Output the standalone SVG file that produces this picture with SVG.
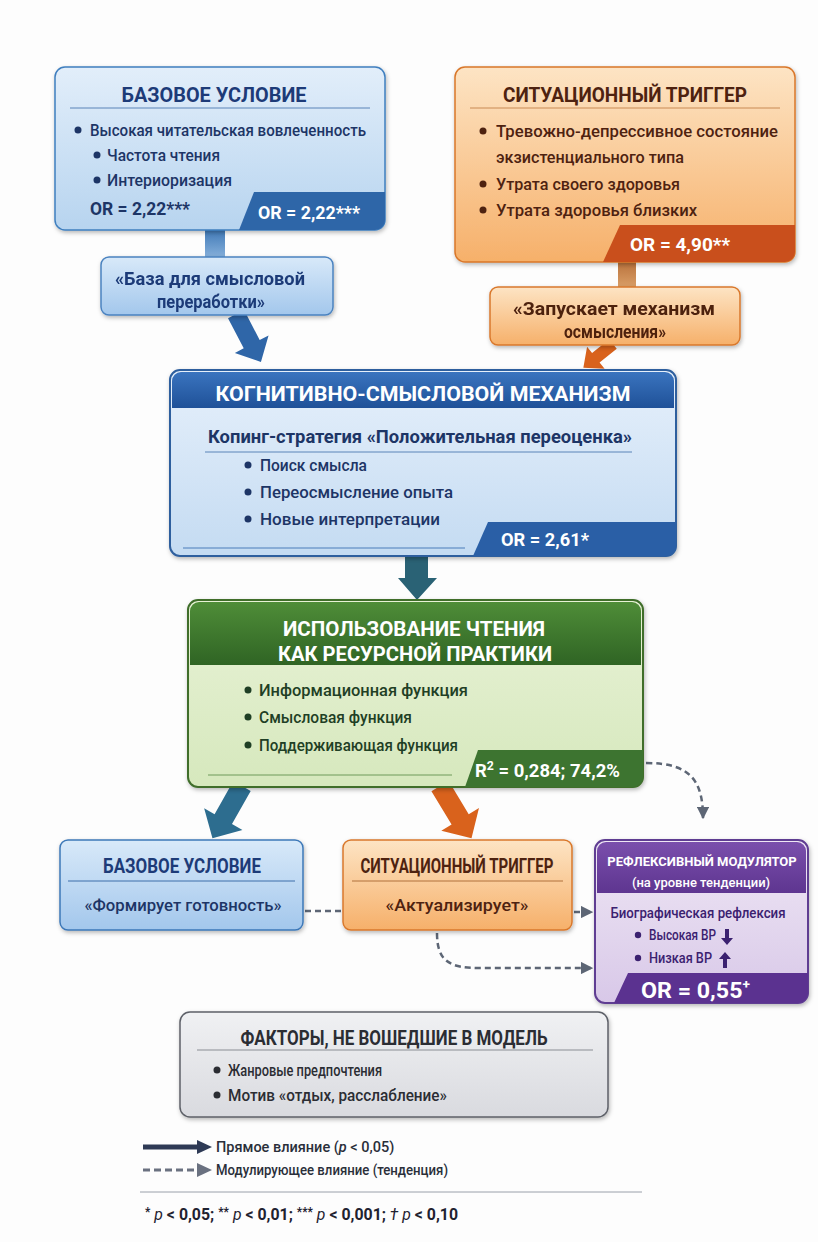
<svg xmlns="http://www.w3.org/2000/svg" width="818" height="1242" viewBox="0 0 818 1242">
<defs>
<style>
text{font-family:Roboto,"Noto Sans","Liberation Sans",sans-serif}
.ttl{font-weight:700;font-size:21px;text-anchor:middle}
.bd{font-weight:500;font-size:17px}
.bb{font-weight:700;font-size:18px}
.wt{fill:#fff}
.nv{fill:#1d3566}
.br{fill:#4e2210}
.gr{fill:#1f3f25}
.pu{fill:#3b2170}
.gy{fill:#2b2d33}
.dash{fill:none;stroke:#5d6675;stroke-width:2.5;stroke-dasharray:6 4}
</style>
<filter id="sh" x="-10%" y="-10%" width="120%" height="130%"><feDropShadow dx="1" dy="2" stdDeviation="2" flood-color="#000" flood-opacity="0.28"/></filter>
<linearGradient id="gBlue" x1="0" y1="0" x2="0" y2="1"><stop offset="0" stop-color="#e2eefa"/><stop offset="1" stop-color="#b7d4ef"/></linearGradient>
<linearGradient id="gBlueL" x1="0" y1="0" x2="0" y2="1"><stop offset="0" stop-color="#d8e9f9"/><stop offset="1" stop-color="#a3c7ec"/></linearGradient>
<linearGradient id="gOr" x1="0" y1="0" x2="0" y2="1"><stop offset="0" stop-color="#fde4c4"/><stop offset="1" stop-color="#f6b06a"/></linearGradient>
<linearGradient id="gMech" x1="0" y1="0" x2="0" y2="1"><stop offset="0" stop-color="#e6f0fb"/><stop offset="1" stop-color="#c4dbf2"/></linearGradient>
<linearGradient id="gMechH" x1="0" y1="0" x2="0" y2="1"><stop offset="0" stop-color="#3a74bf"/><stop offset="1" stop-color="#1f5198"/></linearGradient>
<linearGradient id="gGrH" x1="0" y1="0" x2="0" y2="1"><stop offset="0" stop-color="#4f8d38"/><stop offset="1" stop-color="#2f6424"/></linearGradient>
<linearGradient id="gGr" x1="0" y1="0" x2="0" y2="1"><stop offset="0" stop-color="#e8f2d6"/><stop offset="1" stop-color="#d6e8bd"/></linearGradient>
<linearGradient id="gPu" x1="0" y1="0" x2="0" y2="1"><stop offset="0" stop-color="#efe7f5"/><stop offset="1" stop-color="#d8c8e8"/></linearGradient>
<linearGradient id="gPuH" x1="0" y1="0" x2="0" y2="1"><stop offset="0" stop-color="#7a4fac"/><stop offset="1" stop-color="#5e3590"/></linearGradient>
<linearGradient id="gGy" x1="0" y1="0" x2="0" y2="1"><stop offset="0" stop-color="#f0f1f3"/><stop offset="1" stop-color="#d9dadf"/></linearGradient>
<linearGradient id="gBar1" x1="0" y1="0" x2="0" y2="1"><stop offset="0" stop-color="#3f78b6"/><stop offset="1" stop-color="#8ab3dd"/></linearGradient>
<linearGradient id="gBar2" x1="0" y1="0" x2="0" y2="1"><stop offset="0" stop-color="#b8703a"/><stop offset="1" stop-color="#dca26a"/></linearGradient>
<marker id="ah" viewBox="0 0 10 10" refX="9" refY="5" markerWidth="5" markerHeight="5" markerUnits="strokeWidth" orient="auto"><path d="M0,0 L10,5 L0,10 Z" fill="#5d6675"/></marker>
</defs>
<rect width="818" height="1242" fill="#fdfdfd"/>

<g id="connectors">
<rect x="205" y="229" width="20" height="30" fill="url(#gBar1)"/>
<rect x="618" y="261" width="18" height="28" fill="url(#gBar2)"/>
<path transform="translate(236,314) rotate(62.5)" d="M0,-9 L34,-9 L34,-19 L54,0 L34,19 L34,9 L0,9 Z" fill="#2f66a8"/>
<path transform="translate(613,344) rotate(141.3)" d="M0,-6 L22,-6 L22,-14 L38,0 L22,14 L22,6 L0,6 Z" fill="#d9621c"/>
<polygon points="405,556 428,556 428,578 437,578 417,600 398,578 405,578" fill="#2a6275"/>
<path transform="translate(242,786) rotate(119.5)" d="M0,-10 L38,-10 L38,-22 L60,0 L38,22 L38,10 L0,10 Z" fill="#2d6d8f"/>
<path transform="translate(440,786) rotate(58.9)" d="M0,-10 L39,-10 L39,-22 L61,0 L39,22 L39,10 L0,10 Z" fill="#d9621c"/>
<path class="dash" d="M646,763 C690,763 703,780 703,818" marker-end="url(#ah)"/>
<line class="dash" x1="305" y1="911" x2="341" y2="911"/>
<path class="dash" d="M574,912 L592,912" marker-end="url(#ah)"/>
<path class="dash" d="M437,933 C437,962 450,968 480,968 L592,968" marker-end="url(#ah)"/>
</g>

<g id="base-top" filter="url(#sh)">
<rect x="55" y="67" width="330" height="163" rx="10" fill="url(#gBlue)" stroke="#3f7fbf" stroke-width="1.5"/>
<path d="M254,192 H385 V220 A10,10 0 0 1 375,230 H239 Z" fill="#2f66a8"/>
</g>
<g id="base-top-text">
<text class="ttl" x="214" y="102" fill="#1d3b78" textLength="185" lengthAdjust="spacingAndGlyphs">БАЗОВОЕ УСЛОВИЕ</text>
<line x1="70" y1="108" x2="370" y2="108" stroke="#5b84b8"/>
<circle cx="78" cy="130" r="3.5" fill="#1d3566"/>
<text class="bd nv" x="90" y="136" textLength="276" lengthAdjust="spacingAndGlyphs">Высокая читательская вовлеченность</text>
<circle cx="97" cy="155" r="3.5" fill="#1d3566"/>
<text class="bd nv" x="107" y="161" textLength="113" lengthAdjust="spacingAndGlyphs">Частота чтения</text>
<circle cx="97" cy="180" r="3.5" fill="#1d3566"/>
<text class="bd nv" x="107" y="186" textLength="125" lengthAdjust="spacingAndGlyphs">Интериоризация</text>
<text class="bb nv" x="90" y="215" textLength="100" lengthAdjust="spacingAndGlyphs">OR = 2,22***</text>
<text class="bb wt" x="258" y="219" textLength="102" lengthAdjust="spacingAndGlyphs">OR = 2,22***</text>
</g>

<g id="trigger-top" filter="url(#sh)">
<rect x="455" y="67" width="340" height="195" rx="10" fill="url(#gOr)" stroke="#d9772a" stroke-width="1.5"/>
<path d="M620,225 H795 V252 A10,10 0 0 1 785,262 H603 Z" fill="#c9501c"/>
</g>
<g id="trigger-top-text">
<text class="ttl br" x="625" y="102" textLength="244" lengthAdjust="spacingAndGlyphs">СИТУАЦИОННЫЙ ТРИГГЕР</text>
<line x1="470" y1="108" x2="780" y2="108" stroke="#c98a55"/>
<circle cx="483" cy="131" r="3.5" fill="#4e2210"/>
<text class="bd br" x="496" y="137" textLength="282" lengthAdjust="spacingAndGlyphs">Тревожно-депрессивное состояние</text>
<text class="bd br" x="496" y="163" textLength="188" lengthAdjust="spacingAndGlyphs">экзистенциального типа</text>
<circle cx="483" cy="184" r="3.5" fill="#4e2210"/>
<text class="bd br" x="496" y="190" textLength="184" lengthAdjust="spacingAndGlyphs">Утрата своего здоровья</text>
<circle cx="483" cy="210" r="3.5" fill="#4e2210"/>
<text class="bd br" x="496" y="216" textLength="201" lengthAdjust="spacingAndGlyphs">Утрата здоровья близких</text>
<text class="bb wt" x="630" y="251" textLength="100" lengthAdjust="spacingAndGlyphs">OR = 4,90**</text>
</g>

<g id="label-base" filter="url(#sh)">
<rect x="101" y="257" width="232" height="58" rx="8" fill="url(#gBlueL)" stroke="#4b83c0" stroke-width="1.5"/>
<text class="bb" x="210" y="285" text-anchor="middle" fill="#1d3b78" textLength="190" lengthAdjust="spacingAndGlyphs">«База для смысловой</text>
<text class="bb" x="211" y="308" text-anchor="middle" fill="#1d3b78" textLength="108" lengthAdjust="spacingAndGlyphs">переработки»</text>
</g>

<g id="label-trigger" filter="url(#sh)">
<rect x="490" y="287" width="250" height="58" rx="8" fill="url(#gOr)" stroke="#d9782c" stroke-width="1.5"/>
<text class="bb br" x="614" y="315" text-anchor="middle" textLength="202" lengthAdjust="spacingAndGlyphs">«Запускает механизм</text>
<text class="bb br" x="615" y="338" text-anchor="middle" textLength="102" lengthAdjust="spacingAndGlyphs">осмысления»</text>
</g>

<g id="mechanism">
<rect x="170" y="370" width="506" height="186" rx="10" fill="url(#gMech)" stroke="#2e5f9e" stroke-width="2" filter="url(#sh)"/>
<path d="M172,381 A9,9 0 0 1 181,372 H665 A9,9 0 0 1 674,381 V408 H172 Z" fill="url(#gMechH)"/>
<text class="ttl wt" x="423" y="401" textLength="415" lengthAdjust="spacingAndGlyphs">КОГНИТИВНО-СМЫСЛОВОЙ МЕХАНИЗМ</text>
<text x="420" y="443" text-anchor="middle" font-weight="700" font-size="19" fill="#1d3566" textLength="424" lengthAdjust="spacingAndGlyphs">Копинг-стратегия «Положительная переоценка»</text>
<line x1="205" y1="452" x2="632" y2="452" stroke="#5b84b8"/>
<circle cx="248" cy="465" r="3.5" fill="#1d3566"/>
<text class="bd nv" x="260" y="471" font-size="18" textLength="107" lengthAdjust="spacingAndGlyphs">Поиск смысла</text>
<circle cx="248" cy="492" r="3.5" fill="#1d3566"/>
<text class="bd nv" x="260" y="498" font-size="18" textLength="193" lengthAdjust="spacingAndGlyphs">Переосмысление опыта</text>
<circle cx="248" cy="519" r="3.5" fill="#1d3566"/>
<text class="bd nv" x="260" y="525" font-size="18" textLength="180" lengthAdjust="spacingAndGlyphs">Новые интерпретации</text>
<line x1="183" y1="548" x2="465" y2="548" stroke="#4b7dba"/>
<path d="M488,522 H676 V546 A10,10 0 0 1 666,556 H473 Z" fill="#2a5fa6"/>
<text class="bb wt" x="501" y="546" font-size="19" textLength="88" lengthAdjust="spacingAndGlyphs">OR = 2,61*</text>
</g>

<g id="resource-practice">
<rect x="188" y="600" width="455" height="187" rx="10" fill="url(#gGr)" stroke="#3f6e2c" stroke-width="2" filter="url(#sh)"/>
<path d="M190,611 A9,9 0 0 1 199,602 H632 A9,9 0 0 1 641,611 V665 H190 Z" fill="url(#gGrH)"/>
<text class="ttl wt" x="414" y="636" textLength="262" lengthAdjust="spacingAndGlyphs">ИСПОЛЬЗОВАНИЕ ЧТЕНИЯ</text>
<text class="ttl wt" x="415" y="661" textLength="274" lengthAdjust="spacingAndGlyphs">КАК РЕСУРСНОЙ ПРАКТИКИ</text>
<circle cx="248" cy="690" r="3.5" fill="#1f3f25"/>
<text class="bd gr" x="259" y="696" font-size="18" font-weight="600" textLength="209" lengthAdjust="spacingAndGlyphs">Информационная функция</text>
<circle cx="248" cy="717" r="3.5" fill="#1f3f25"/>
<text class="bd gr" x="259" y="723" font-size="18" font-weight="600" textLength="153" lengthAdjust="spacingAndGlyphs">Смысловая функция</text>
<circle cx="248" cy="745" r="3.5" fill="#1f3f25"/>
<text class="bd gr" x="259" y="751" font-size="18" font-weight="600" textLength="199" lengthAdjust="spacingAndGlyphs">Поддерживающая функция</text>
<line x1="208" y1="775" x2="452" y2="775" stroke="#6f9a5a"/>
<path d="M478,750 H643 V777 A10,10 0 0 1 633,787 H465 Z" fill="#3d7430"/>
<text class="bb wt" x="475" y="777" font-size="19" textLength="145" lengthAdjust="spacingAndGlyphs">R<tspan font-size="12" dy="-7">2</tspan><tspan dy="7"> = 0,284; 74,2%</tspan></text>
</g>

<g id="base-bottom">
<rect x="60" y="840" width="243" height="90" rx="8" fill="url(#gBlueL)" stroke="#3d78b8" stroke-width="1.5" filter="url(#sh)"/>
<text class="ttl" x="182" y="873" font-size="19" fill="#1d3b78" textLength="158" lengthAdjust="spacingAndGlyphs">БАЗОВОЕ УСЛОВИЕ</text>
<line x1="68" y1="881" x2="295" y2="881" stroke="#3d6eaa"/>
<text class="bd nv" x="183" y="911" font-size="18" text-anchor="middle" textLength="197" lengthAdjust="spacingAndGlyphs">«Формирует готовность»</text>
</g>

<g id="trigger-bottom">
<rect x="343" y="840" width="229" height="90" rx="8" fill="url(#gOr)" stroke="#d9782c" stroke-width="1.5" filter="url(#sh)"/>
<text class="ttl br" x="457" y="873" font-size="17" textLength="193" lengthAdjust="spacingAndGlyphs">СИТУАЦИОННЫЙ ТРИГГЕР</text>
<line x1="352" y1="881" x2="563" y2="881" stroke="#b0703a"/>
<text class="bd br" x="457" y="911" font-size="18" text-anchor="middle" textLength="143" lengthAdjust="spacingAndGlyphs">«Актуализирует»</text>
</g>

<g id="modulator">
<rect x="595" y="840" width="213" height="163" rx="10" fill="url(#gPu)" stroke="#5f3d92" stroke-width="2" filter="url(#sh)"/>
<path d="M597,851 A9,9 0 0 1 606,842 H797 A9,9 0 0 1 806,851 V893 H597 Z" fill="url(#gPuH)"/>
<text x="702" y="866" text-anchor="middle" font-weight="700" font-size="13" fill="#fff">РЕФЛЕКСИВНЫЙ МОДУЛЯТОР</text>
<text x="701" y="887" text-anchor="middle" font-weight="500" font-size="13" fill="#fff">(на уровне тенденции)</text>
<text x="698" y="918" text-anchor="middle" font-weight="500" font-size="14" class="pu" textLength="175" lengthAdjust="spacingAndGlyphs">Биографическая рефлексия</text>
<circle cx="638" cy="935" r="3.2" fill="#3b2170"/>
<text x="649" y="940" font-weight="500" font-size="15" class="pu" textLength="67" lengthAdjust="spacingAndGlyphs">Высокая ВР</text>
<path d="M725,929 H729 V938 H733 L727,945 L721,938 H725 Z" fill="#3b2170"/>
<circle cx="638" cy="958" r="3.2" fill="#3b2170"/>
<text x="649" y="963" font-weight="500" font-size="15" class="pu" textLength="63" lengthAdjust="spacingAndGlyphs">Низкая ВР</text>
<path d="M723,968 H727 V959 H731 L725,952 L719,959 H723 Z" fill="#3b2170"/>
<path d="M628,973 H808 V993 A10,10 0 0 1 798,1003 H614 Z" fill="#5b3290"/>
<text x="641" y="998" font-weight="700" font-size="22" fill="#fff" textLength="109" lengthAdjust="spacingAndGlyphs">OR = 0,55<tspan font-size="13" dy="-9">+</tspan></text>
</g>

<g id="excluded-factors">
<rect x="180" y="1012" width="428" height="105" rx="10" fill="url(#gGy)" stroke="#5d6068" stroke-width="1.5" filter="url(#sh)"/>
<text class="ttl gy" x="394" y="1045" font-size="19" textLength="307" lengthAdjust="spacingAndGlyphs">ФАКТОРЫ, НЕ ВОШЕДШИЕ В МОДЕЛЬ</text>
<line x1="197" y1="1050" x2="593" y2="1050" stroke="#8a8d94"/>
<circle cx="217" cy="1070" r="3.5" fill="#2b2d33"/>
<text class="bd gy" x="228" y="1076" textLength="154" lengthAdjust="spacingAndGlyphs">Жанровые предпочтения</text>
<circle cx="217" cy="1095" r="3.5" fill="#2b2d33"/>
<text class="bd gy" x="228" y="1101" textLength="219" lengthAdjust="spacingAndGlyphs">Мотив «отдых, расслабление»</text>
</g>

<g id="legend">
<line x1="143" y1="1147" x2="200" y2="1147" stroke="#2e3a55" stroke-width="5"/>
<polygon points="197,1140 212,1147 197,1154" fill="#2e3a55"/>
<text x="216" y="1152" font-size="14.5" font-weight="500" fill="#2a2f3a">Прямое влияние (<tspan font-style="italic">p</tspan> &lt; 0,05)</text>
<line x1="143" y1="1170" x2="200" y2="1170" stroke="#6a7180" stroke-width="3" stroke-dasharray="7 4"/>
<polygon points="197,1163 212,1170 197,1177" fill="#6a7180"/>
<text x="216" y="1175" font-size="14.5" font-weight="500" fill="#2a2f3a" textLength="232" lengthAdjust="spacingAndGlyphs">Модулирующее влияние (тенденция)</text>
<line x1="140" y1="1192" x2="642" y2="1192" stroke="#9aa0aa"/>
<text x="145" y="1220" font-size="16" font-weight="700" fill="#1f2230" textLength="313" lengthAdjust="spacingAndGlyphs"><tspan font-size="12" dy="-4">*</tspan><tspan dy="4" font-style="italic" font-weight="400"> p</tspan> &lt; 0,05; <tspan font-size="12" dy="-4">**</tspan><tspan dy="4" font-style="italic" font-weight="400"> p</tspan> &lt; 0,01; <tspan font-size="12" dy="-4">***</tspan><tspan dy="4" font-style="italic" font-weight="400"> p</tspan> &lt; 0,001; <tspan font-style="italic" font-weight="400">† p</tspan> &lt; 0,10</text>
</g>
</svg>
